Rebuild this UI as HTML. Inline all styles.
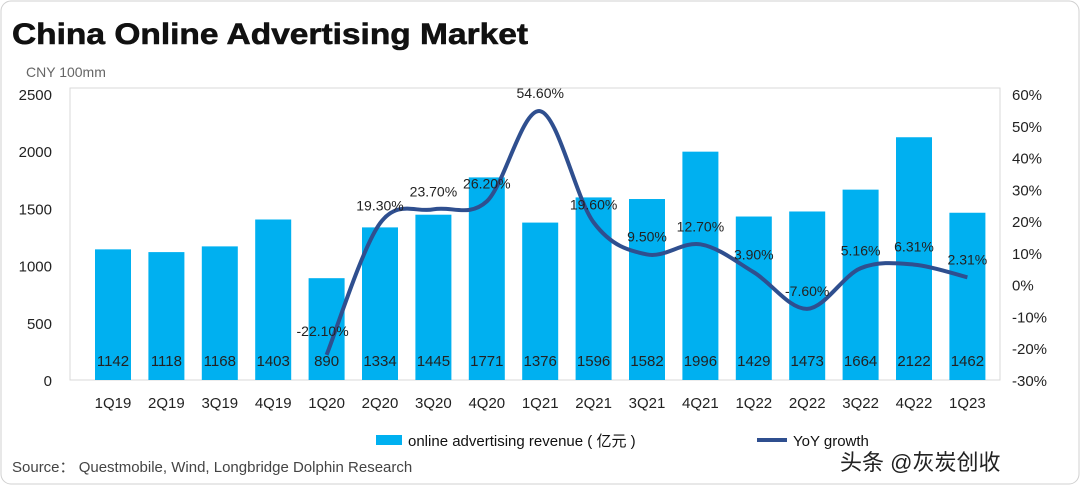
<!DOCTYPE html>
<html><head><meta charset="utf-8">
<style>
body{margin:0;background:#fff;font-family:"Liberation Sans","Noto Sans CJK SC",sans-serif;}
#wrap{position:relative;width:1080px;height:485px;overflow:hidden;background:#fff;}
</style></head>
<body>
<div id="wrap">
<svg id="chart" width="1080" height="485" xmlns="http://www.w3.org/2000/svg">
<rect x="1" y="1" width="1078" height="483" rx="10" fill="#fff" stroke="#d0d0d0"/>
<text x="12" y="44" font-size="30" font-weight="bold" fill="#111" stroke="#111" stroke-width="0.6" textLength="516" lengthAdjust="spacingAndGlyphs">China Online Advertising Market</text>
<text x="26" y="77" font-size="14" fill="#666">CNY 100mm</text>
<rect x="70" y="88" width="930" height="292" fill="none" stroke="#d9d9d9"/>
<g id="axes"></g><g id="bars"></g><g id="line"></g>
<rect x="376" y="435" width="26" height="10" fill="#00b0f0"/>
<text x="408" y="446" font-size="15" fill="#111">online advertising revenue ( 亿元 )</text>
<line x1="757" y1="440" x2="787" y2="440" stroke="#2f4f8f" stroke-width="4"/>
<text x="793" y="446" font-size="15" fill="#111">YoY growth</text>
<text x="12" y="472" font-size="15" fill="#444">Source：  Questmobile, Wind, Longbridge Dolphin Research</text>
<text x="840" y="470" font-size="22" fill="#222">头条 @灰炭创收</text>
</svg>
</div>
<script>
const categories=["1Q19","2Q19","3Q19","4Q19","1Q20","2Q20","3Q20","4Q20","1Q21","2Q21","3Q21","4Q21","1Q22","2Q22","3Q22","4Q22","1Q23"];
const revenue=[1142,1118,1168,1403,890,1334,1445,1771,1376,1596,1582,1996,1429,1473,1664,2122,1462];
const yoy=[null,null,null,null,-22.1,19.3,23.7,26.2,54.6,19.6,9.5,12.7,3.9,-7.6,5.16,6.31,2.31];
const yoyLabels=["","","","","-22.10%","19.30%","23.70%","26.20%","54.60%","19.60%","9.50%","12.70%","3.90%","-7.60%","5.16%","6.31%","2.31%"];
const leftTicks=[0,500,1000,1500,2000,2500];
const rightTicks=[-30,-20,-10,0,10,20,30,40,50,60];
const NS="http://www.w3.org/2000/svg";
const yL=v=>380-v/2500*286;
const yR=v=>380-(v+30)/90*286;
const xC=i=>113+i*53.4;
function mk(tag,attrs,parent,txt){const e=document.createElementNS(NS,tag);for(const k in attrs)e.setAttribute(k,attrs[k]);if(txt!==undefined)e.textContent=txt;parent.appendChild(e);return e;}
const ax=document.getElementById('axes'),bg=document.getElementById('bars'),lg=document.getElementById('line');
leftTicks.forEach(t=>{const e=mk('text',{x:52,y:yL(t)+6,'font-size':15,'text-anchor':'end',fill:'#222'},ax,String(t));

});
rightTicks.forEach(t=>{const e=mk('text',{x:1012,y:yR(t)+6,'font-size':15,fill:'#222'},ax,t+'%');

});
categories.forEach((c,i)=>{const e=mk('text',{x:xC(i),y:408,'font-size':15,'text-anchor':'middle',fill:'#222'},ax,c);


const b=mk('rect',{x:xC(i)-18,y:yL(revenue[i]),width:36,height:380-yL(revenue[i]),fill:'#00b0f0'},bg);


const t=mk('text',{x:xC(i),y:366,'font-size':15,'text-anchor':'middle',fill:'#222'},bg,String(revenue[i]));

});
const pts=[];yoy.forEach((v,i)=>{if(v!==null)pts.push([xC(i),yR(v),i]);});
let d='M'+pts[0][0]+','+pts[0][1];
for(let k=0;k<pts.length-1;k++){const p0=pts[Math.max(0,k-1)],p1=pts[k],p2=pts[k+1],p3=pts[Math.min(pts.length-1,k+2)];
const c1x=p1[0]+(p2[0]-p0[0])/6,c1y=p1[1]+(p2[1]-p0[1])/6,c2x=p2[0]-(p3[0]-p1[0])/6,c2y=p2[1]-(p3[1]-p1[1])/6;
d+=` C${c1x},${c1y} ${c2x},${c2y} ${p2[0]},${p2[1]}`;}
const path=mk('path',{d:d,fill:'none',stroke:'#2f4f8f','stroke-width':4},lg);


pts.forEach(p=>{const i=p[2];let dx=0,dy=-13;if(i===4){dx=-4;dy=-19;}
const t=mk('text',{x:p[0]+dx,y:p[1]+dy,'font-size':14,'text-anchor':'middle',fill:'#222'},lg,yoyLabels[i]);

});
</script>
</body></html>
